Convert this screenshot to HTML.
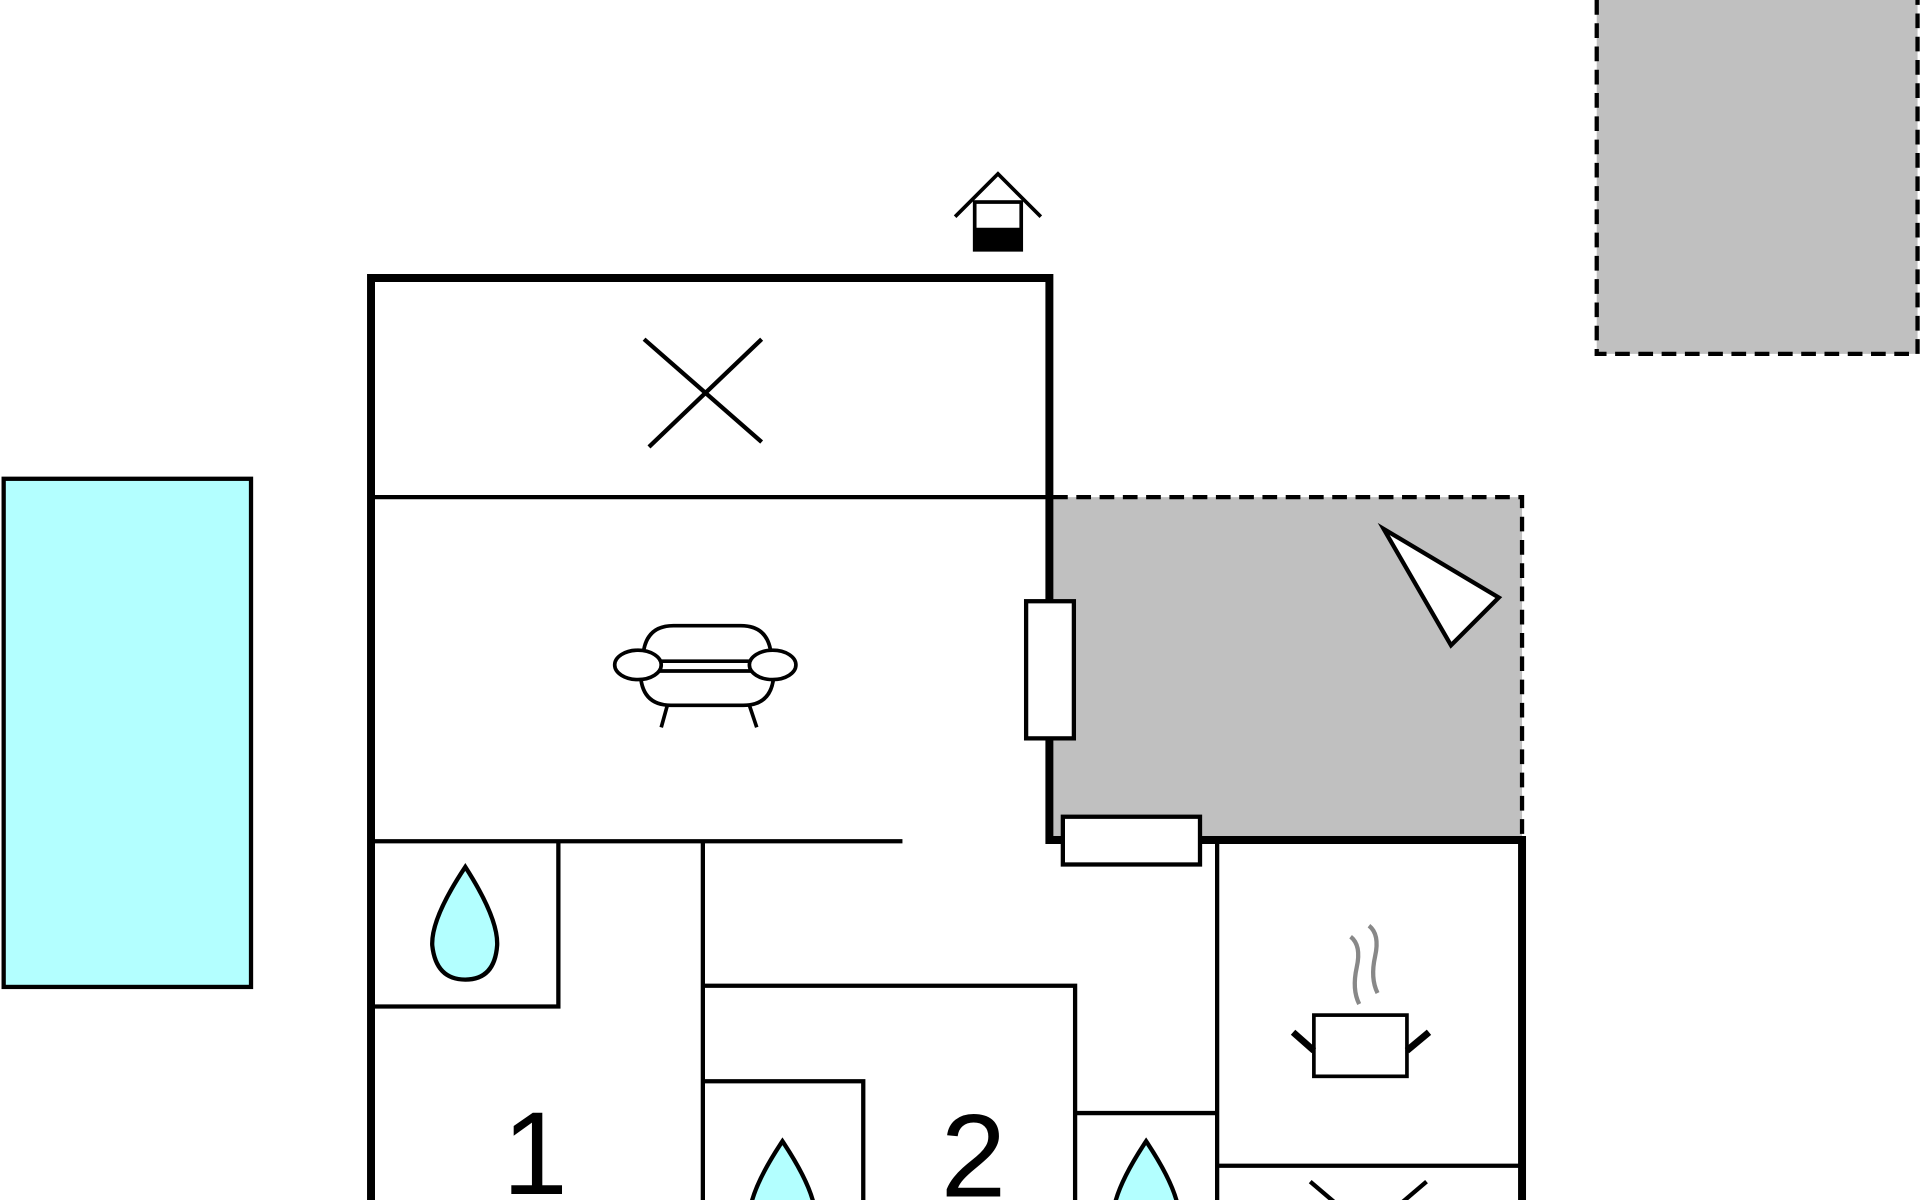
<!DOCTYPE html>
<html><head><style>html,body{margin:0;padding:0;background:#fff;overflow:hidden}svg{display:block}</style></head>
<body>
<svg width="1920" height="1200" viewBox="0 0 1568 980" xmlns="http://www.w3.org/2000/svg">
<rect x="0" y="0" width="1568" height="980" fill="#fff"/>
<rect x="1304" y="-5" width="262" height="294" fill="#c0c0c0"/>
<path d="M1304 0 V289 H1566 V0" fill="none" stroke="#000" stroke-width="3.5" stroke-dasharray="12,7"/>
<rect x="3" y="391" width="202" height="415" fill="#b3ffff" stroke="#000" stroke-width="3.5"/>
<rect x="860" y="406" width="383" height="278" fill="#c0c0c0"/>
<path d="M860 406 H1243 V684" fill="none" stroke="#000" stroke-width="3.5" stroke-dasharray="12,7"/>
<polygon points="1130,432 1224,488 1185,527" fill="#fff" stroke="#000" stroke-width="3.5"/>
<g stroke="#000" stroke-width="3.5" fill="none">
<line x1="303" y1="406" x2="857" y2="406"/>
<line x1="303" y1="687" x2="737" y2="687"/>
<path d="M303 822 H456 V687"/>
<line x1="574" y1="687" x2="574" y2="980"/>
<path d="M574 805 H878 V980"/>
<path d="M574 883 H705 V980"/>
<path d="M878 909 H993"/>
<line x1="994" y1="686" x2="994" y2="980"/>
<line x1="994" y1="952" x2="1243" y2="952"/>
</g>
<g stroke="#000" stroke-width="6.5" fill="none">
<path d="M303 980 V227 H857 V686 H868"/>
<path d="M980 686 H1243 V980"/>
</g>
<rect x="838" y="491" width="39" height="112" fill="#fff" stroke="#000" stroke-width="3.5"/>
<rect x="868" y="667" width="112" height="39" fill="#fff" stroke="#000" stroke-width="3.5"/>
<g stroke="#000" stroke-width="3.5">
<line x1="526" y1="277" x2="622" y2="361"/>
<line x1="622" y1="277" x2="530" y2="365"/>
<line x1="1070" y1="965" x2="1090" y2="982"/>
<line x1="1165" y1="965" x2="1145" y2="982"/>
</g>
<g stroke="#000" stroke-width="3" fill="none">
<polyline points="780,177 815,142 850,177"/>
<rect x="796" y="165" width="38" height="39" fill="#fff"/>
</g>
<rect x="796" y="186" width="38" height="19" fill="#000"/>
<g stroke="#000" stroke-width="3" fill="#fff">
<path d="M525 540 Q525 511 550 511 H605 Q630 511 630 540 Z"/>
<path d="M523 548 Q523 576 548 576 H607 Q632 576 632 548 Z"/>
<line x1="545" y1="576" x2="540" y2="594"/>
<line x1="612" y1="576" x2="618" y2="594"/>
<ellipse cx="521" cy="543" rx="19" ry="12"/>
<ellipse cx="631" cy="543" rx="19" ry="12"/>
</g>
<g fill="#b3ffff" stroke="#000" stroke-width="3.5">
<path d="M380 708 Q352 750 353 772 Q356 800 380 800 Q404 800 406 772 Q407 750 380 708 Z"/>
<path d="M639 932 Q611 974 612 996 L666 996 Q667 974 639 932 Z"/>
<path d="M936 932 Q908 974 909 996 L963 996 Q964 974 936 932 Z"/>
</g>
<g stroke="#888" stroke-width="3.5" fill="none">
<path d="M1103 765 Q1112 772 1108 790 Q1104 808 1110 820"/>
<path d="M1118 756 Q1127 763 1123 781 Q1119 799 1125 811"/>
</g>
<g stroke="#000" stroke-width="3" fill="#fff">
<rect x="1073" y="829" width="76" height="50"/>
</g>
<g stroke="#000" stroke-width="5.5">
<line x1="1073" y1="858" x2="1056" y2="843"/>
<line x1="1149" y1="858" x2="1167" y2="843"/>
</g>
<text x="437" y="975" font-family="Liberation Sans, sans-serif" font-size="96" text-anchor="middle">1</text>
<text x="795" y="977" font-family="Liberation Sans, sans-serif" font-size="96" text-anchor="middle">2</text>
</svg>
</body></html>
